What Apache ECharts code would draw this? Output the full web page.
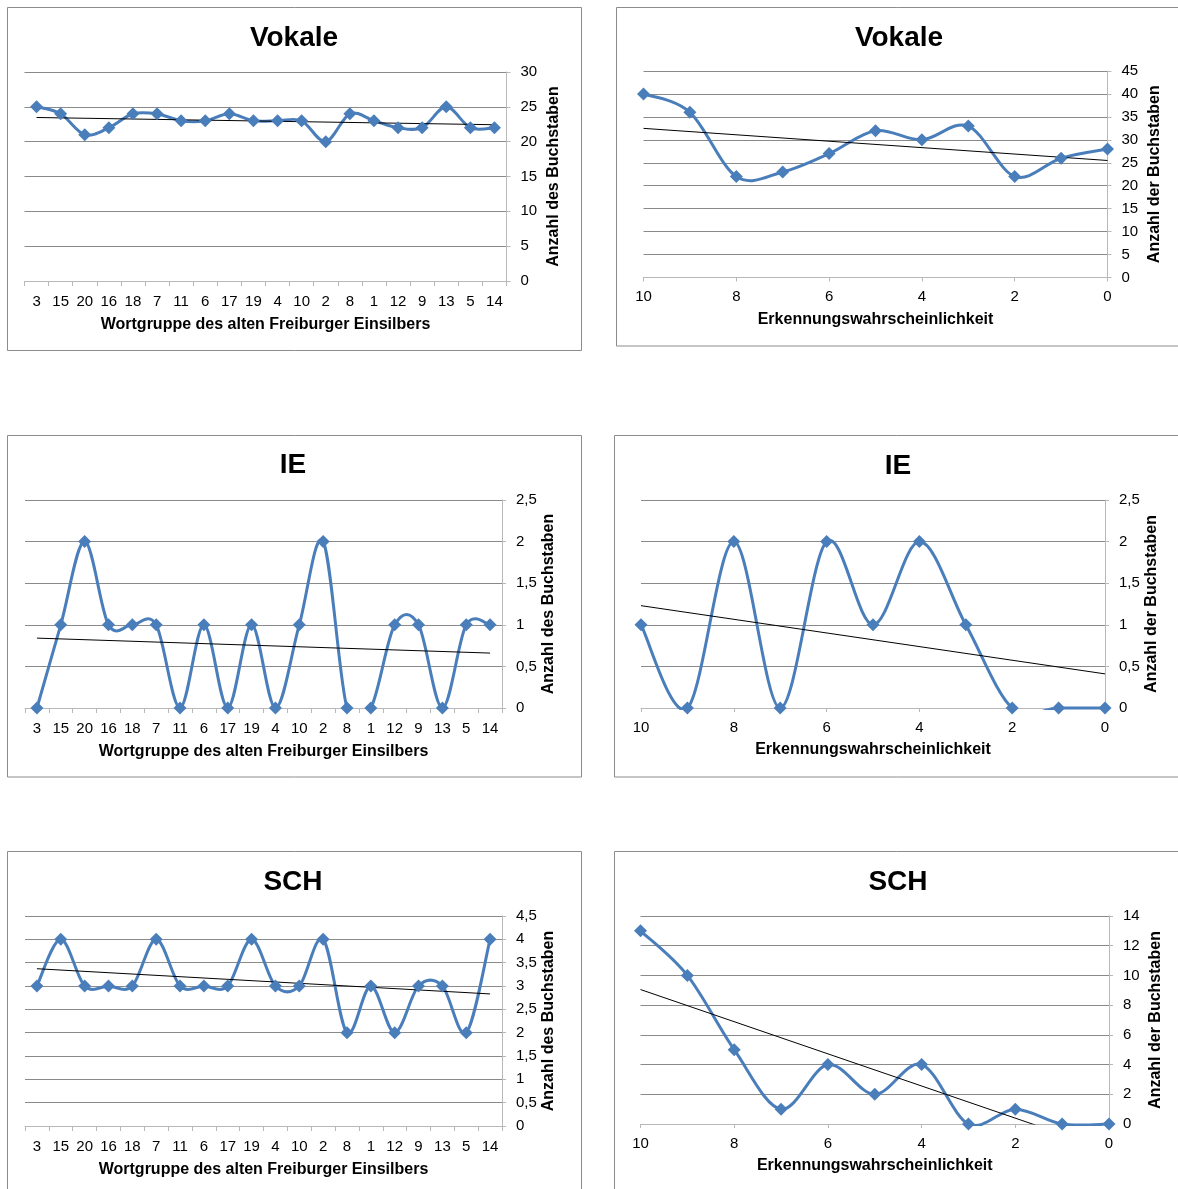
<!DOCTYPE html>
<html>
<head>
<meta charset="utf-8">
<script src="https://cdn.jsdelivr.net/npm/echarts@6/dist/echarts.min.js"></script>
<style>
html,body{margin:0;padding:0;background:#fff;}
#c{width:1178px;height:1189px;}
</style>
</head>
<body>
<div id="c"></div>
<script>
// ---- data ----
const wortCategories = ['3','15','20','16','18','7','11','6','17','19','4','10','2','8','1','12','9','13','5','14'];
const vokaleWort = [25,24,21,22,24,24,23,23,24,23,23,23,20,24,23,22,22,25,22,22];
const ieWort     = [0,1,2,1,1,1,0,1,0,1,0,1,2,0,0,1,1,0,1,1];
const schWort    = [3,4,3,3,3,4,3,3,3,4,3,3,4,2,3,2,3,3,2,4];

const probX      = [10,9,8,7,6,5,4,3,2,1,0];
const vokaleProb = [40,36,22,23,27,32,30,33,22,26,28];
const ieProb     = [1,0,2,0,2,1,2,1,0,0,0];
const schProb    = [13,10,5,1,4,2,4,0,1,0,0];

// trend line end values (first / last x)
const trendVokaleWort = [23.47, 22.43];
const trendIeWort     = [0.84, 0.66];
const trendSchWort    = [3.37, 2.83];
const trendVokaleProb = [32.5, 25.5];
const trendIeProb     = [1.23, 0.41];
const trendSchProb    = [9.05, -1.77];

const titles = ['Vokale','Vokale','IE','IE','SCH','SCH'];
const xTitleWort = 'Wortgruppe des alten Freiburger Einsilbers';
const xTitleProb = 'Erkennungswahrscheinlichkeit';
const yTitleWort = 'Anzahl des Buchstaben';
const yTitleProb = 'Anzahl der Buchstaben';

// ---- layout ----
const FONT = "'Liberation Sans', Arial, sans-serif";
const BLUE = '#4a7ebb';
const GRID_C = '#8a8a8a';
const AXIS_C = '#b8b8b8';

const panels = [
  {kind:'wort', title:titles[0], data:vokaleWort, trend:trendVokaleWort, max:30, interval:5,
   grid:{left:24.5, top:72, width:482, height:209}, box:[7.5,7.5,574,343], tx:294, ty:24},
  {kind:'prob', title:titles[1], data:vokaleProb, trend:trendVokaleProb, max:45, interval:5,
   grid:{left:643.5, top:71, width:464, height:206.5}, box:[616.5,7.5,700,338.5], tx:899, ty:24},
  {kind:'wort', title:titles[2], data:ieWort, trend:trendIeWort, max:2.5, interval:0.5,
   grid:{left:25, top:500, width:477, height:208}, box:[7.5,435.5,574,341.5], tx:293, ty:451},
  {kind:'prob', title:titles[3], data:ieProb, trend:trendIeProb, max:2.5, interval:0.5,
   grid:{left:641, top:500, width:464, height:208}, box:[614.5,435.5,700,341.5], tx:898, ty:452},
  {kind:'wort', title:titles[4], data:schWort, trend:trendSchWort, max:4.5, interval:0.5,
   grid:{left:25, top:916, width:477, height:210}, box:[7.5,851.5,574,400], tx:293, ty:868},
  {kind:'prob', title:titles[5], data:schProb, trend:trendSchProb, max:14, interval:2,
   grid:{left:640.5, top:916, width:468.5, height:208}, box:[614.5,851.5,700,400], tx:898, ty:868}
];

const option = {
  backgroundColor:'#fff',
  animation:false,
  title:[], grid:[], xAxis:[], yAxis:[], series:[], graphic:[]
};

const fmt = v => String(v).replace('.', ',');

// Excel-style smoothed line (Catmull-Rom Bezier), drawn through the library's coordinate system
function smoothRenderer(points) {
  return function (params, api) {
    const i = params.dataIndex;
    const n = points.length;
    if (i >= n - 1) return null;
    const c = k => api.coord(points[Math.max(0, Math.min(n - 1, k))]);
    const p0 = c(i - 1), p1 = c(i), p2 = c(i + 1), p3 = c(i + 2);
    const t = 1 / 6;
    const cs = params.coordSys;
    const pad = 2;
    return {
      type:'bezierCurve',
      shape:{
        x1:p1[0], y1:p1[1], x2:p2[0], y2:p2[1],
        cpx1:p1[0] + (p2[0] - p0[0]) * t, cpy1:p1[1] + (p2[1] - p0[1]) * t,
        cpx2:p2[0] - (p3[0] - p1[0]) * t, cpy2:p2[1] - (p3[1] - p1[1]) * t
      },
      style:{stroke:BLUE, lineWidth:3, fill:null, lineCap:'round', lineJoin:'round'},
      clipPath:{type:'rect', shape:{x:cs.x - pad, y:cs.y - pad, width:cs.width + 2 * pad, height:cs.height + 2 * pad}}
    };
  };
}

panels.forEach((p, i) => {
  option.title.push({
    text:p.title, left:p.tx, top:p.ty, textAlign:'center', padding:0,
    textStyle:{fontFamily:FONT, fontSize:28, fontWeight:'bold', color:'#000'}
  });
  option.grid.push(Object.assign({containLabel:false, outerBoundsMode:'none'}, p.grid));
  option.graphic.push({
    type:'rect', shape:{x:p.box[0], y:p.box[1], width:p.box[2], height:p.box[3]},
    style:{fill:'none', stroke:'#8c8c8c', lineWidth:1}, z:-1, silent:true
  });
  const isWort = p.kind === 'wort';
  if (isWort) {
    option.xAxis.push({
      gridIndex:i, type:'category', data:wortCategories, boundaryGap:true,
      axisLine:{show:true, lineStyle:{color:AXIS_C}},
      axisTick:{show:true, length:5, interval:0, lineStyle:{color:AXIS_C}},
      axisLabel:{interval:0, margin:13, fontFamily:FONT, fontSize:15, color:'#000'},
      splitLine:{show:false},
      name:xTitleWort, nameLocation:'middle', nameGap:36,
      nameTextStyle:{fontFamily:FONT, fontSize:16, fontWeight:'bold', color:'#000'}
    });
  } else {
    option.xAxis.push({
      gridIndex:i, type:'value', min:0, max:10, interval:2, inverse:true,
      axisLine:{show:true, onZero:false, lineStyle:{color:AXIS_C}},
      axisTick:{show:true, length:4, lineStyle:{color:AXIS_C}},
      axisLabel:{margin:12, fontFamily:FONT, fontSize:15, color:'#000'},
      splitLine:{show:false},
      name:xTitleProb, nameLocation:'middle', nameGap:34,
      nameTextStyle:{fontFamily:FONT, fontSize:16, fontWeight:'bold', color:'#000'}
    });
  }
  option.yAxis.push({
    gridIndex:i, type:'value', position:'right', min:0, max:p.max, interval:p.interval,
    axisLine:{show:true, lineStyle:{color:AXIS_C}},
    axisTick:{show:true, length:4, lineStyle:{color:AXIS_C}},
    axisLabel:{margin:14, fontFamily:FONT, fontSize:15, color:'#000', formatter:fmt},
    splitLine:{show:true, lineStyle:{color:GRID_C, width:1}},
    name:isWort ? yTitleWort : yTitleProb, nameLocation:'middle', nameRotate:90, nameGap:39,
    nameTextStyle:{fontFamily:FONT, fontSize:16, fontWeight:'bold', color:'#000'}
  });
  const pts = isWort ? p.data.map((v, k) => [k, v]) : probX.map((x, k) => [x, p.data[k]]);
  // smoothed connecting line
  option.series.push({
    type:'custom', xAxisIndex:i, yAxisIndex:i, data:pts, clip:false,
    encode:{x:0, y:1}, renderItem:smoothRenderer(pts), z:3, silent:true
  });
  // diamond markers
  option.series.push({
    type:'scatter', xAxisIndex:i, yAxisIndex:i, data:pts, clip:false,
    symbol:'diamond', symbolSize:13, itemStyle:{color:BLUE, opacity:1}, z:5
  });
  const trendData = isWort
    ? [[0, p.trend[0]], [wortCategories.length - 1, p.trend[1]]]
    : [[probX[0], p.trend[0]], [probX[probX.length - 1], p.trend[1]]];
  option.series.push({
    type:'line', xAxisIndex:i, yAxisIndex:i, data:trendData, clip:true,
    symbol:'none', lineStyle:{color:'#000', width:1}, z:4, silent:true
  });
});

const chart = echarts.init(document.getElementById('c'), null, {renderer:'canvas'});
chart.setOption(option);
</script>
</body>
</html>
